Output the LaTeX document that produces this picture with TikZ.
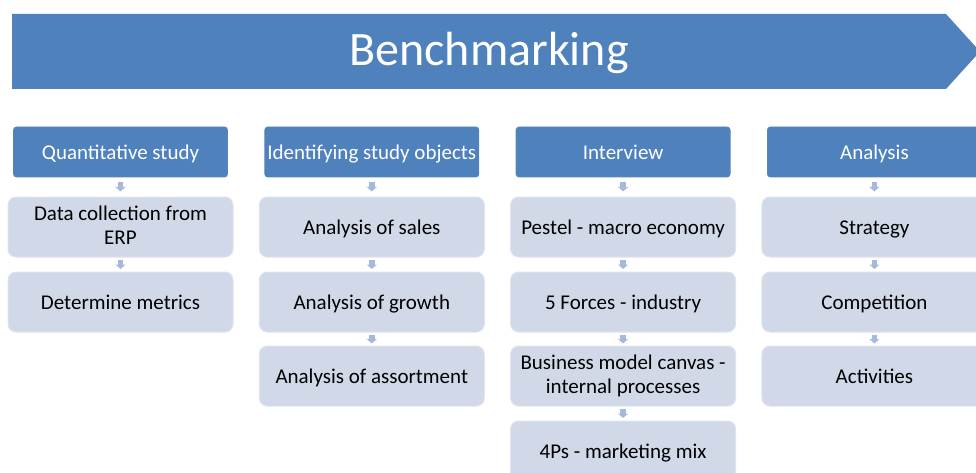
\documentclass[tikz,border=0pt]{standalone}
\usepackage{fontspec}
\setmainfont{Carlito}
\usetikzlibrary{calc,arrows.meta}
\definecolor{hdrblue}{RGB}{79,129,189}
\definecolor{hdredge}{RGB}{84,134,194}
\definecolor{subfill}{RGB}{209,217,233}
\definecolor{subedge}{RGB}{221,227,239}
\definecolor{arrowc}{RGB}{167,185,218}
% line strut that sets the text block slightly low in its box
\newcommand{\boxstrut}{\rule[-4.2pt]{0pt}{24pt}}
\tikzset{
  boxtext/.style={font=\fontsize{21}{24}\selectfont, align=center,
    execute at begin node=\boxstrut, execute at end node=\boxstrut},
  header/.style={boxtext, fill=hdrblue, draw=hdredge, line width=0.8pt, rounded corners=3pt,
    minimum width=214pt, minimum height=50pt, inner sep=0pt, text=white},
  stepbox/.style={boxtext, fill=subfill, draw=subedge, line width=1pt, rounded corners=8pt,
    minimum width=225pt, minimum height=60pt, inner sep=0pt, text=black},
  conn/.style={draw=arrowc, line width=5.5pt,
    -{Triangle[length=4.5pt, width=10pt]}},
}
% down arrow centred in the gap between two boxes
\newcommand{\flowarrow}[2]{%
  \draw[conn] ($(#1.south)!0.5!(#2.north)+(0,-4.5)$) -- ($(#1.south)!0.5!(#2.north)+(0,4.5)$);}
\begin{document}
\begin{tikzpicture}[x=1pt,y=-1pt]
\useasboundingbox (0,0) rectangle (976,473);
\clip (0,0) rectangle (976,473);

% title banner
\fill[hdrblue] (12,14) -- (946,14) -- (980,51.5) -- (946,89) -- (12,89) -- cycle;
\node[text=white, font=\fontsize{48}{50}\selectfont] (title) at (489,53) {Benchmarking};

% column 1
\node[header] (h1) at (120.5,152) {Quantitative study};
\node[stepbox] (s11) at (120.5,227) {Data collection from\\ERP};
\node[stepbox] (s12) at (120.5,302) {Determine metrics};

% column 2
\node[header] (h2) at (371.8,152) {Identifying study objects};
\node[stepbox] (s21) at (371.8,227) {Analysis of sales};
\node[stepbox] (s22) at (371.8,302) {Analysis of growth};
\node[stepbox] (s23) at (371.8,376) {Analysis of assortment};

% column 3
\node[header] (h3) at (623.1,152) {Interview};
\node[stepbox] (s31) at (623.1,227) {Pestel - macro economy};
\node[stepbox] (s32) at (623.1,302) {5 Forces - industry};
\node[stepbox] (s33) at (623.1,376) {Business model canvas -\\internal processes};
\node[stepbox] (s34) at (623.1,451) {4Ps - marketing mix};

% column 4
\node[header] (h4) at (874.4,152) {Analysis};
\node[stepbox] (s41) at (874.4,227) {Strategy};
\node[stepbox] (s42) at (874.4,302) {Competition};
\node[stepbox] (s43) at (874.4,376) {Activities};

% connectors
\flowarrow{h1}{s11}\flowarrow{s11}{s12}
\flowarrow{h2}{s21}\flowarrow{s21}{s22}\flowarrow{s22}{s23}
\flowarrow{h3}{s31}\flowarrow{s31}{s32}\flowarrow{s32}{s33}\flowarrow{s33}{s34}
\flowarrow{h4}{s41}\flowarrow{s41}{s42}\flowarrow{s42}{s43}
\end{tikzpicture}
\end{document}
